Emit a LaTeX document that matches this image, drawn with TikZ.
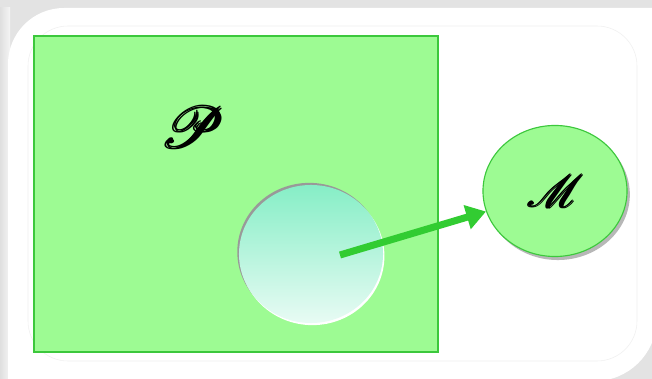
\documentclass[tikz,border=0pt]{standalone}
\usepackage{amsmath}
\usepackage{mathrsfs}
\usepackage{graphicx}
\usepackage{tikz}
\usetikzlibrary{arrows.meta, positioning, shapes.geometric, shadows}

\definecolor{setgreen}{RGB}{157,251,147}
\definecolor{edgegreen}{RGB}{60,200,60}
\definecolor{arrowgreen}{RGB}{50,204,50}
\definecolor{disktop}{RGB}{134,238,198}
\definecolor{diskbottom}{RGB}{232,251,244}

\begin{document}
\begin{tikzpicture}[
    x=0.025cm, y=-0.025cm,
    frame/.style={fill=white},
    setbox/.style={rectangle, draw=edgegreen, line width=0.8pt, fill=setgreen, minimum width=10.1cm, minimum height=7.9cm},
    disk/.style={ellipse, minimum width=3.6cm, minimum height=3.45cm, top color=disktop, bottom color=diskbottom,
        general shadow={fill=gray!80, shadow xshift=-1.2pt, shadow yshift=1.5pt},
        general shadow={fill=white, shadow xshift=1pt, shadow yshift=-1.5pt}},
    target/.style={ellipse, draw=edgegreen, line width=0.8pt, fill=setgreen, minimum width=3.6cm, minimum height=3.275cm,
        drop shadow={fill=gray!70, shadow xshift=2pt, shadow yshift=-2.5pt, opacity=0.8}},
    sym/.style={font=\Huge, inner sep=0pt},
    arrow/.style={-{Triangle[length=14pt, width=17pt]}, line width=5pt, draw=arrowgreen}
]
% background and frame
\fill[gray!22] (0,0) rectangle (652,379);
\useasboundingbox (0,0) rectangle (652,379);
\fill[left color=gray!25, right color=gray!8] (0,8) rectangle (10,379);
\fill[frame] (8,390) [rounded corners=1.4cm] -- (8,8) [sharp corners] -- (665,8)
    [rounded corners=1.5cm] -- (655,381) [sharp corners] -- (-5,381) -- cycle;
\draw[gray!12, line width=0.4pt, rounded corners=1cm] (28,26) rectangle (637,361);

% sets
\node[setbox] (plane) at (236,194) {};
\node[sym] (plabel) at (194,127) {\scalebox{1.65}{$\pmb{\mathscr{P}}$}};
\node[disk] (subset) at (311,254) {};
\coordinate (start) at (340,255);
\node[target] (image) at (555,191) {};
\node[sym] (mlabel) at (556,191) {\scalebox{1.3}{$\pmb{\mathscr{M}}$}};

\draw[arrow] (start) -- (image);
\end{tikzpicture}
\end{document}
